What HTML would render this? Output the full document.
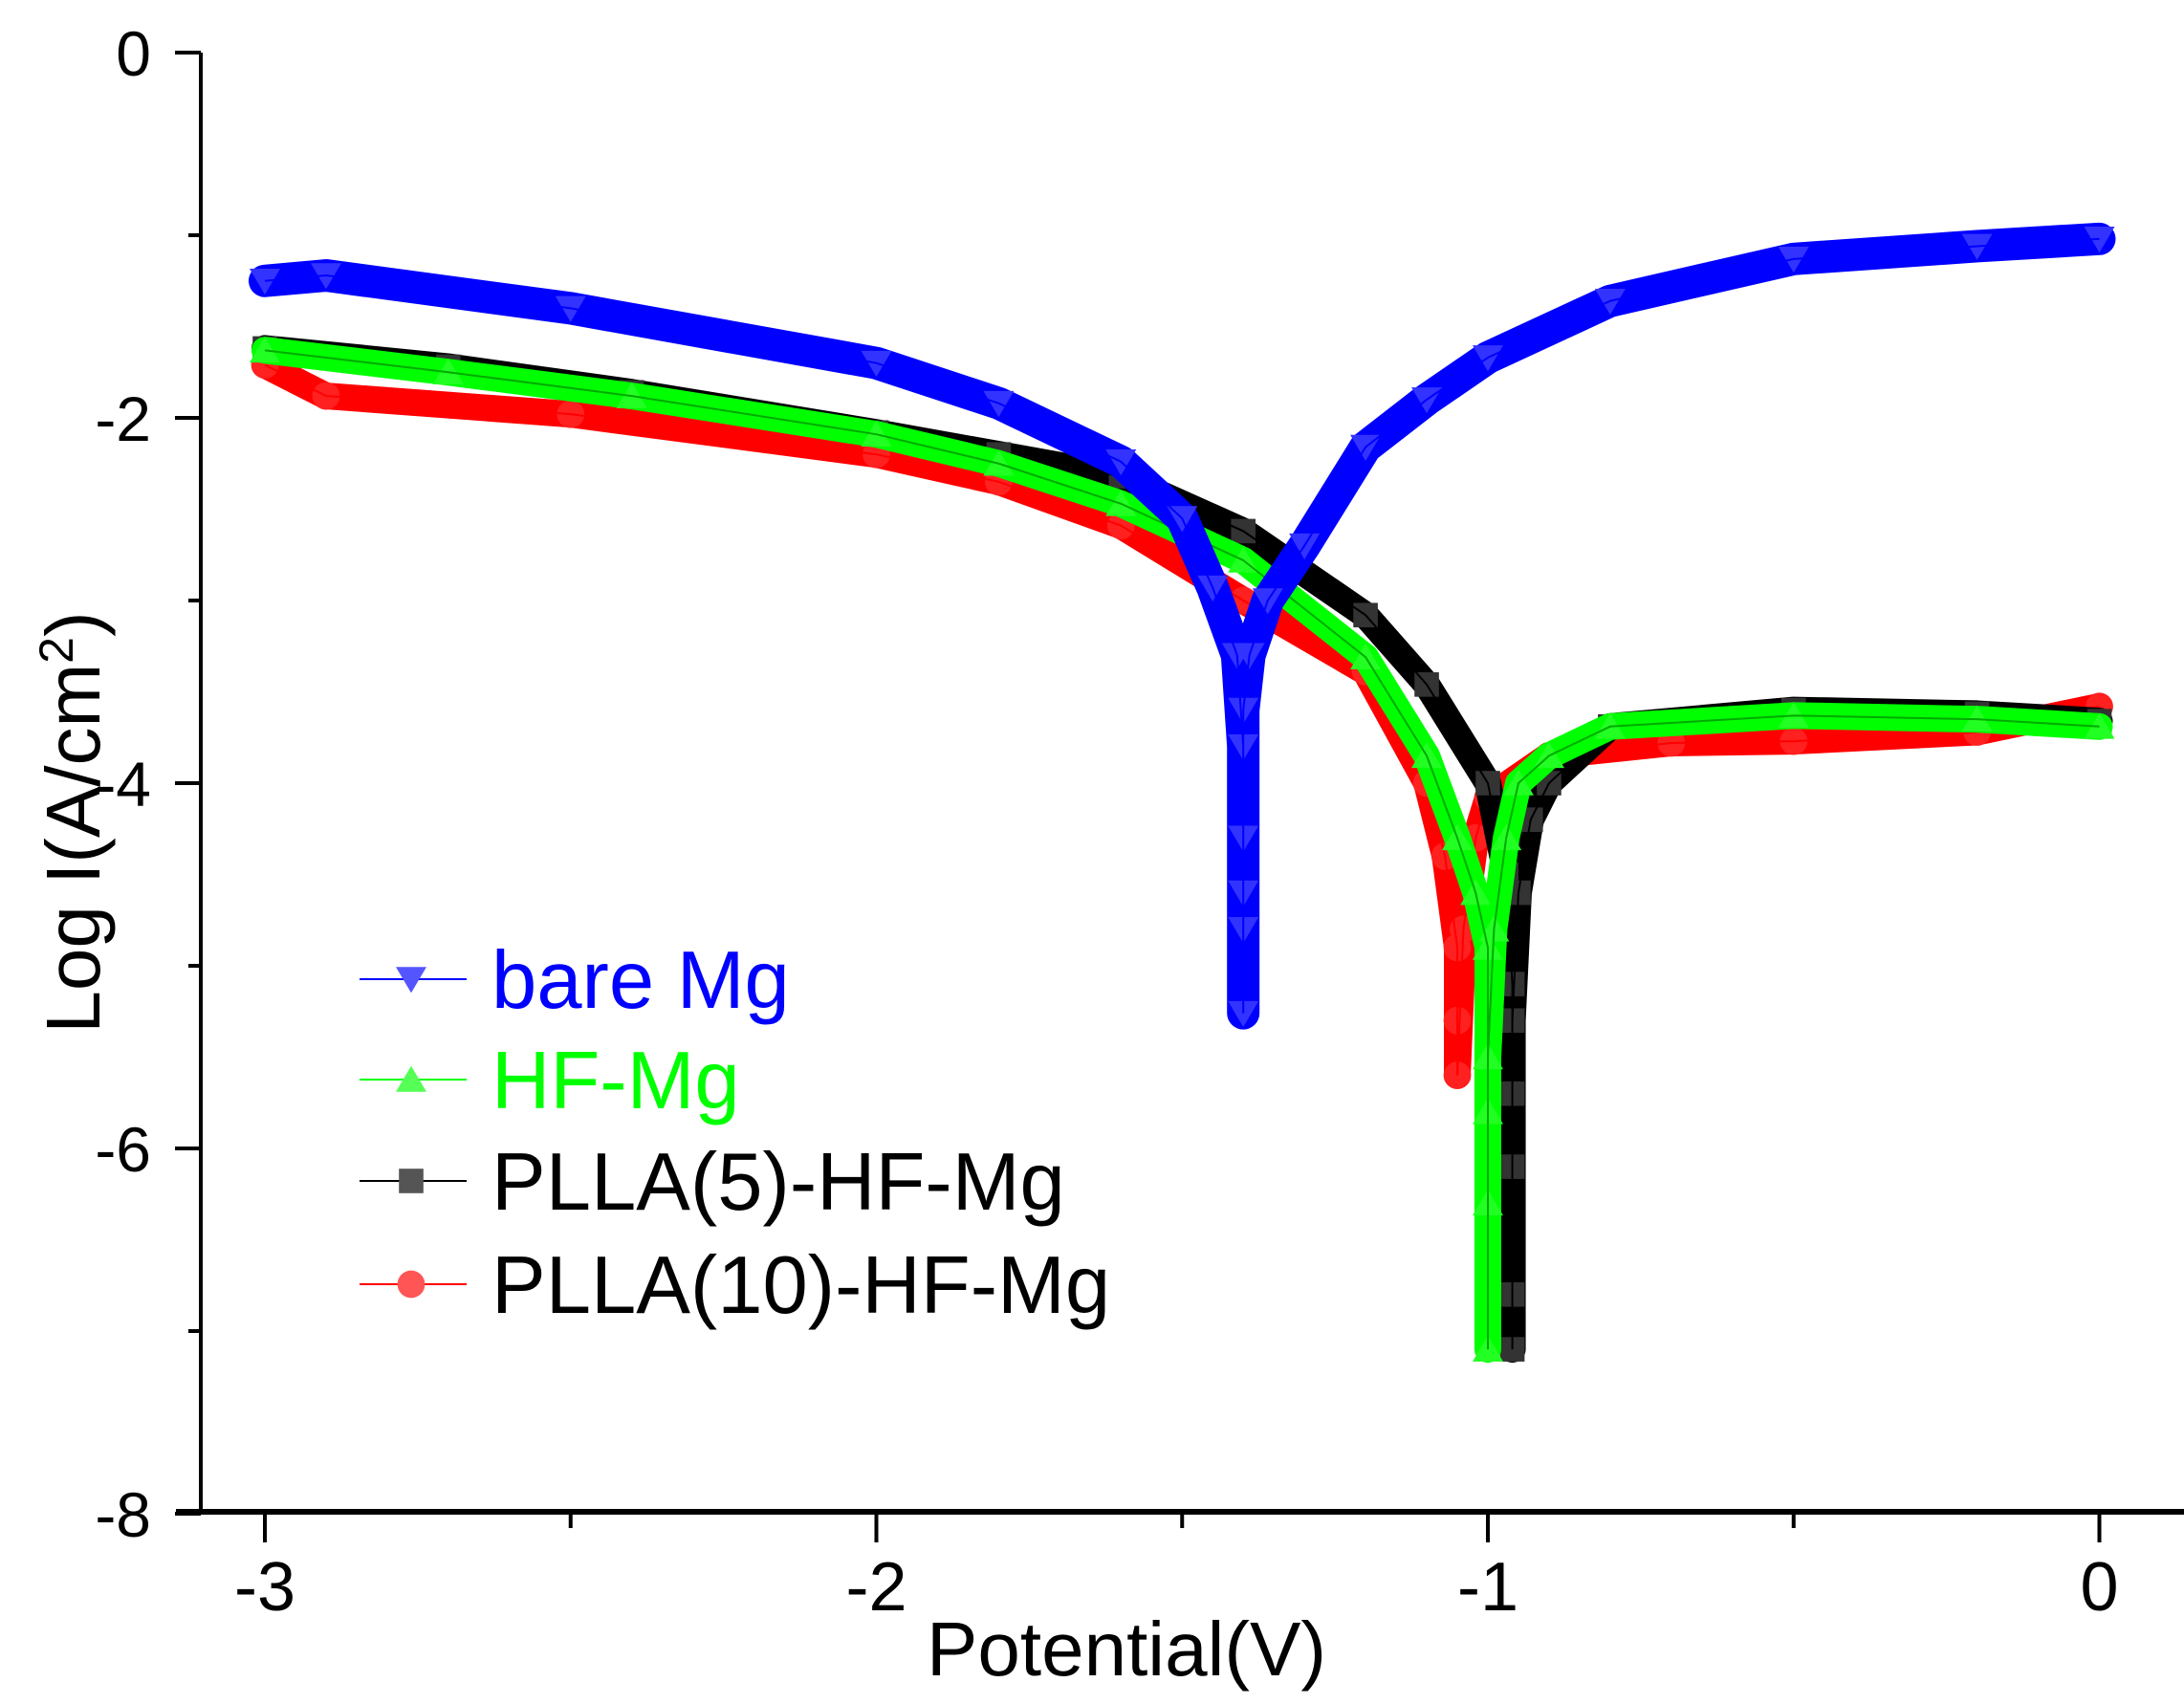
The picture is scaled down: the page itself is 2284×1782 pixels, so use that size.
<!DOCTYPE html>
<html><head><meta charset="utf-8"><style>
html,body{margin:0;padding:0;background:#fff;}
svg{display:block;font-family:"Liberation Sans",Arial,sans-serif;}
</style></head><body>
<svg id="chart" width="2284" height="1782" viewBox="0 0 2284 1782" xmlns="http://www.w3.org/2000/svg">
<g id="series"></g>
<g id="axes"></g>
<text x="1178" y="1752" font-size="80" text-anchor="middle">Potential(V)</text>
<text transform="translate(104,860) rotate(-90)" font-size="80" text-anchor="middle">Log I(A/cm<tspan baseline-shift="super" font-size="50">2</tspan>)</text>
<g id="legend"></g>
</svg>
<script>
const xTicks = [-3, -2, -1, 0];
const yTicks = [0, -2, -4, -6, -8];
const seriesNames = ["bare Mg", "HF-Mg", "PLLA(5)-HF-Mg", "PLLA(10)-HF-Mg"];
const bareX = [-3, -2.9, -2.5, -2, -1.8, -1.6, -1.5, -1.45, -1.41, -1.4, -1.4, -1.4, -1.4, -1.4, -1.4, -1.39, -1.36, -1.3, -1.2, -1.1, -1, -0.8, -0.5, -0.2, 0];
const bareY = [-1.25, -1.22, -1.4, -1.7, -1.92, -2.24, -2.55, -2.93, -3.3, -3.8, -4.3, -4.8, -5.26, -4.6, -3.6, -3.3, -3.0, -2.7, -2.16, -1.9, -1.67, -1.36, -1.13, -1.06, -1.02];
const hfX = [-3, -2.7, -2.4, -2, -1.8, -1.6, -1.4, -1.2, -1.1, -1.05, -1.02, -1.0, -1.0, -1.0, -1.0, -1.0, -0.99, -0.97, -0.95, -0.9, -0.8, -0.5, -0.2, 0];
const hfY = [-1.63, -1.75, -1.88, -2.09, -2.25, -2.47, -2.78, -3.31, -3.85, -4.3, -4.6, -4.9, -5.8, -6.3, -7.1, -5.5, -4.8, -4.3, -4.0, -3.85, -3.69, -3.63, -3.65, -3.69];
const p5X = [-3, -2.7, -2.4, -2, -1.8, -1.6, -1.4, -1.2, -1.1, -1.0, -0.97, -0.96, -0.96, -0.96, -0.96, -0.96, -0.96, -0.95, -0.93, -0.9, -0.8, -0.5, -0.2, 0];
const p5Y = [-1.62, -1.72, -1.86, -2.08, -2.2, -2.32, -2.62, -3.08, -3.46, -4.0, -4.5, -5.1, -5.7, -6.1, -6.8, -7.1, -5.3, -4.6, -4.2, -4.0, -3.69, -3.6, -3.62, -3.66];
const p10X = [-3, -2.9, -2.5, -2, -1.8, -1.6, -1.4, -1.2, -1.1, -1.07, -1.05, -1.05, -1.05, -1.04, -1.02, -1.0, -0.9, -0.7, -0.5, -0.2, 0];
const p10Y = [-1.71, -1.88, -1.98, -2.2, -2.35, -2.59, -3.0, -3.39, -4.0, -4.4, -4.9, -5.3, -5.6, -4.8, -4.3, -4.08, -3.85, -3.78, -3.77, -3.72, -3.58];

const NS = "http://www.w3.org/2000/svg";
const X = v => 277 + (v + 3) * 639.5;
const Y = v => 55 - v * 191;
function mk(tag, attrs, parent) {
  const e = document.createElementNS(NS, tag);
  for (const k in attrs) e.setAttribute(k, attrs[k]);
  parent.appendChild(e);
  return e;
}
function marker(shape, cx, cy, s, color, parent) {
  let e;
  if (shape === "down") e = mk("polygon", {points: `${cx-s},${cy-s*0.8} ${cx+s},${cy-s*0.8} ${cx},${cy+s*0.9}`, fill: color}, parent);
  else if (shape === "up") e = mk("polygon", {points: `${cx-s},${cy+s*0.8} ${cx+s},${cy+s*0.8} ${cx},${cy-s*0.9}`, fill: color}, parent);
  else if (shape === "sq") e = mk("rect", {x: cx-s*0.8, y: cy-s*0.8, width: s*1.6, height: s*1.6, fill: color}, parent);
  else e = mk("circle", {cx: cx, cy: cy, r: s*0.9, fill: color}, parent);
  return e;
}
const sg = document.getElementById("series");
const defs = [
  {xs: p10X, ys: p10Y, c: "#ff0000", mc: "#ff2020", shape: "circ", name: "series-plla10-hf-mg"},
  {xs: p5X, ys: p5Y, c: "#000000", mc: "#333333", shape: "sq", name: "series-plla5-hf-mg"},
  {xs: hfX, ys: hfY, c: "#00ff00", mc: "#22ff22", shape: "up", name: "series-hf-mg"},
  {xs: bareX, ys: bareY, c: "#0000ff", mc: "#3333ff", shape: "down", name: "series-bare-mg"}
];
defs.forEach(d => {
  const g = mk("g", {}, sg);
  
  
  const pts = d.xs.map((x, i) => X(x) + "," + Y(d.ys[i])).join(" ");
  const band = mk("polyline", {points: pts, fill: "none", stroke: d.c, "stroke-width": d.shape === "down" ? 34 : 28, "stroke-linejoin": "round", "stroke-linecap": "round"}, g);
  
  
  d.xs.forEach((x, i) => {
    const m = marker(d.shape, X(x), Y(d.ys[i]), 16, d.mc, g);
    
    
  });
  const thin = mk("polyline", {points: pts, fill: "none", stroke: d.c === "#00ff00" ? "#00aa00" : d.c, "stroke-width": 2}, g);
  
  
});

const ax = document.getElementById("axes");
const yl = mk("line", {x1: 210, y1: 55, x2: 210, y2: 1581, stroke: "#000", "stroke-width": 4}, ax);


const xl = mk("line", {x1: 184, y1: 1581, x2: 2284, y2: 1581, stroke: "#000", "stroke-width": 6}, ax);


yTicks.forEach(v => {
  const t = mk("line", {x1: 183, y1: Y(v), x2: 210, y2: Y(v), stroke: "#000", "stroke-width": 4}, ax);
  
  
  if (v > -8) {
    const m = mk("line", {x1: 197, y1: Y(v - 1), x2: 210, y2: Y(v - 1), stroke: "#000", "stroke-width": 4}, ax);
    
    
  }
  const l = mk("text", {x: 158, y: Y(v) + 24, "font-size": 66, "text-anchor": "end"}, ax);
  l.textContent = v;
  
  
});
xTicks.forEach(v => {
  const t = mk("line", {x1: X(v), y1: 1581, x2: X(v), y2: 1613, stroke: "#000", "stroke-width": 4}, ax);
  
  
  if (v < 0) {
    const m = mk("line", {x1: X(v + 0.5), y1: 1581, x2: X(v + 0.5), y2: 1598, stroke: "#000", "stroke-width": 4}, ax);
    
    
  }
  const l = mk("text", {x: X(v), y: 1684, "font-size": 72, "text-anchor": "middle"}, ax);
  l.textContent = v;
  
  
});

const lg = document.getElementById("legend");
const legDefs = [
  {c: "#0000ff", mc: "#5555ff", shape: "down", tc: "#0000ff"},
  {c: "#00ff00", mc: "#55ff55", shape: "up", tc: "#00ff00"},
  {c: "#000000", mc: "#555555", shape: "sq", tc: "#000000"},
  {c: "#ff0000", mc: "#ff5555", shape: "circ", tc: "#000000"}
];
const legY = [1024, 1129, 1235, 1343];
legDefs.forEach((d, i) => {
  const g = mk("g", {}, lg);
  
  
  mk("line", {x1: 376, y1: legY[i], x2: 488, y2: legY[i], stroke: d.c, "stroke-width": 2}, g);
  marker(d.shape, 430, legY[i], 16, d.mc, g);
  const t = mk("text", {x: 514, y: legY[i] + 30, "font-size": 85, fill: d.tc}, g);
  t.textContent = seriesNames[i];
});
</script>
</body></html>
